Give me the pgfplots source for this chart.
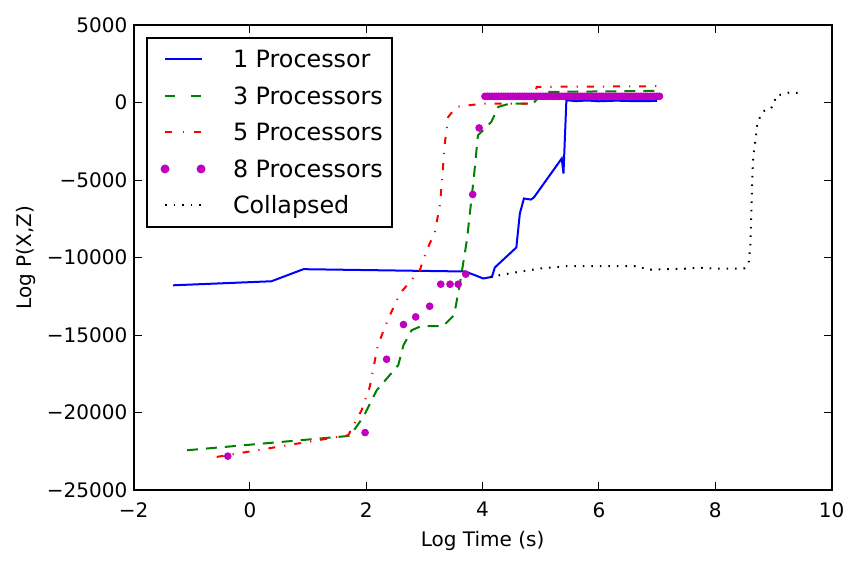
\documentclass[border=0pt]{standalone}
\usepackage{fontspec}
\setmainfont{DejaVu Sans}
\usepackage{pgfplots}
\pgfplotsset{compat=1.18}
\usetikzlibrary{calc}
\definecolor{mplblue}{RGB}{0,0,255}
\definecolor{mplgreen}{RGB}{0,128,0}
\definecolor{mplred}{RGB}{255,0,0}
\definecolor{mplmag}{RGB}{191,0,191}
\begin{document}
\begin{tikzpicture}
\begin{axis}[
  scale only axis, width=349pt, height=232.5pt,
  xmin=-2, xmax=10, ymin=-25000, ymax=5000,
  scaled y ticks=false, scaled x ticks=false,
  xtick={-2,0,2,4,6,8,10}, xticklabels={−2,0,2,4,6,8,10},
  ytick={-25000,-20000,-15000,-10000,-5000,0,5000},
  yticklabels={−25000,−20000,−15000,−10000,−5000,0,5000},
  tick align=inside, major tick length=4pt,
  every tick/.style={black, line width=0.5pt},
  axis line style={line width=1pt},
  tick label style={font=\fontsize{10}{12}\selectfont, inner sep=0pt},
  xticklabel style={yshift=-5.85pt},
  yticklabel style={xshift=-2.9pt},
  label style={font=\fontsize{10}{12}\selectfont},
  xlabel={Log Time (s)}, ylabel={Log P(X,Z)},
  xlabel style={at={(axis description cs:0.5,0)}, anchor=base, yshift=-28pt},
  ylabel style={at={(axis description cs:-0.1464,0.5)}, anchor=base, rotate=0},
  legend style={at={(axis description cs:0,1)}, anchor=north west,
    xshift=6.25pt, yshift=-5.85pt, draw=black, line width=1pt,
    inner xsep=4.5pt, inner ysep=3.6pt, row sep=3.75pt, column sep=13.8pt,
    font=\fontsize{11.9}{14}\selectfont,
    nodes={inner sep=0pt, text height=11.3pt, text depth=3.2pt}},
  legend cell align=left,
]
\addplot[mplblue, line width=1pt,
  legend image code/.code={\path (-4pt,0pt); \draw[mplblue, line width=1pt] (0pt,0pt) -- (18.5pt,0pt);}]
  coordinates {(-1.32,-11790) (0.37,-11530) (0.92,-10750) (3.70,-10900) (3.87,-11140) (4.01,-11350) (4.16,-11250) (4.21,-10640) (4.58,-9350) (4.64,-7160) (4.71,-6190) (4.83,-6260) (4.88,-6130) (5.36,-3610) (5.39,-4580) (5.44,150) (5.6,90) (5.8,130) (6.0,80) (6.3,120) (6.6,90) (7.0,100)};
\addlegendentry{1 Processor}
\addplot[mplgreen, line width=1pt, dash pattern=on 5.5pt off 4pt,
  legend image code/.code={\path (-4pt,0pt); \draw[mplgreen, line width=1pt] (0pt,0pt) -- (5pt,0pt) (13pt,0pt) -- (18pt,0pt);}]
  coordinates {(-1.08,-22430) (1.72,-21500) (1.95,-20280) (2.18,-18560) (2.55,-16940) (2.64,-15650) (2.78,-14690) (2.95,-14410) (3.32,-14430) (3.51,-13720) (3.61,-11680) (3.73,-8880) (3.85,-4800) (3.92,-2110) (4.04,-1680) (4.15,-1250) (4.27,-280) (4.47,-65) (4.87,-65) (5.04,680) (7.0,750)};
\addlegendentry{3 Processors}
\addplot[mplred, line width=1pt, dash pattern=on 3.5pt off 4.5pt on 0.6pt off 4.5pt,
  legend image code/.code={\path (-4pt,0pt); \draw[mplred, line width=1pt] (0pt,0pt) -- (3.3pt,0pt) (8.9pt,0pt) -- (9.5pt,0pt) (14.7pt,0pt) -- (18pt,0pt);}]
  coordinates {(-0.57,-22860) (1.69,-21460) (1.92,-19850) (2.06,-18340) (2.20,-15650) (2.38,-13930) (2.58,-12320) (2.92,-10820) (3.04,-9530) (3.18,-8350) (3.27,-6510) (3.35,-2640) (3.41,-925) (3.55,-280) (4.01,-65) (4.85,-65) (4.93,1010) (7.0,1050)};
\addlegendentry{5 Processors}
\addplot[only marks, mark=*, mark size=1.7pt, mplmag, mark options={draw=mplmag, fill=mplmag},
  legend image code/.code={\path (-4pt,0pt); \fill[mplmag] (0pt,0pt) circle (1.7pt) (18pt,0pt) circle (1.7pt);}]
  coordinates {(-0.38,-22810) (1.98,-21290) (2.35,-16560) (2.64,-14320) (2.85,-13830) (3.09,-13140) (3.28,-11720) (3.44,-11720) (3.58,-11720) (3.71,-11070) (3.83,-5930) (3.94,-1640)
  (4.04,400) (4.08,400) (4.12,400) (4.16,400) (4.20,400) (4.24,400) (4.28,400) (4.32,400) (4.36,400) (4.40,400)
  (4.44,400) (4.48,400) (4.52,400) (4.56,400) (4.60,400) (4.64,400) (4.68,400) (4.72,400) (4.76,400) (4.80,400)
  (4.84,400) (4.88,400) (4.92,400) (4.96,400) (5.00,400) (5.04,400) (5.08,400) (5.12,400) (5.16,400) (5.20,400)
  (5.24,400) (5.28,400) (5.32,400) (5.36,400) (5.40,400) (5.44,400) (5.48,400) (5.52,400) (5.56,400) (5.60,400)
  (5.64,400) (5.68,400) (5.72,400) (5.76,400) (5.80,400) (5.84,400) (5.88,400) (5.92,400) (5.96,400) (6.00,400)
  (6.04,400) (6.08,400) (6.12,400) (6.16,400) (6.20,400) (6.24,400) (6.28,400) (6.32,400) (6.36,400) (6.40,400)
  (6.44,400) (6.48,400) (6.52,400) (6.56,400) (6.60,400) (6.64,400) (6.68,400) (6.72,400) (6.76,400) (6.80,400)
  (6.84,400) (6.88,400) (6.92,400) (6.96,400) (7.00,400) (7.04,400)};
\addlegendentry{8 Processors}
\addplot[black, line width=1pt, dash pattern=on 0.8pt off 3.45pt,
  legend image code/.code={\path (-4pt,0pt); \draw[black, line width=1pt, dash pattern=on 0.8pt off 3.45pt] (0pt,0pt) -- (18.5pt,0pt);}]
  coordinates {(4.13,-11250) (4.5,-11000) (4.98,-10710) (5.44,-10560) (6.1,-10560) (6.68,-10560) (6.82,-10780) (7.5,-10720) (7.7,-10650) (8.0,-10720) (8.49,-10720) (8.57,-10430) (8.6,-9310) (8.62,-7160) (8.63,-5550) (8.65,-3510) (8.69,-2430) (8.72,-1355) (8.77,-925) (8.84,-540) (8.94,-450) (9.01,-110) (9.04,425) (9.27,645) (9.51,600)};
\addlegendentry{Collapsed}
\end{axis}
\path ($(current axis.south west)+(-66.75pt,-37.5pt)$) rectangle ($(current axis.north east)+(13.15pt,12.5pt)$);
\end{tikzpicture}
\end{document}
